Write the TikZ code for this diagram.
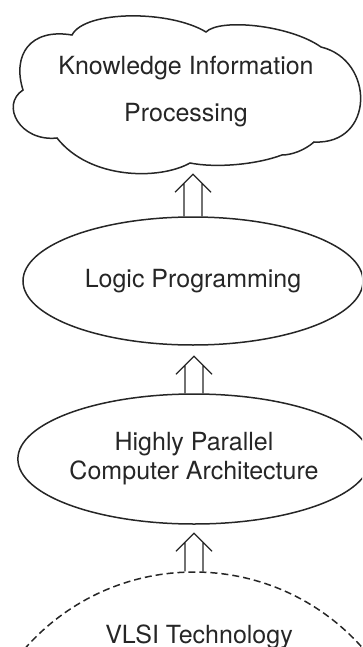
\documentclass[tikz,border=0pt]{standalone}
\usepackage{fontspec}
\setmainfont{TeX Gyre Heros}
\usetikzlibrary{calc,shapes.geometric}
\newcommand\hollowup[2]{% #1 base point, #2 tip point (same x)
  \draw[harrow] ($(#1)+(-9,0)$) -- ($(#2)+(-9,-9)$)
                ($(#1)+(9,0)$) -- ($(#2)+(9,-9)$)
                ($(#2)+(-18,-18)$) -- (#2) -- ($(#2)+(18,-18)$);
}
\begin{document}
\begin{tikzpicture}[x=1pt,y=1pt,
  outline/.style={line width=1.5pt, draw=black!85},
  bubble/.style={ellipse, outline, inner sep=0pt, align=center, text=black!85},
  harrow/.style={line width=1.3pt, draw=black!85, line join=miter},
  lbl/.style={align=center, text=black!85}]
\useasboundingbox (0,0) rectangle (362,-647);
\clip (0,0) rectangle (362,-647);
% cloud
\draw[outline] (72,-35) .. controls (85,-10) and (170,-10) .. (206,-32)
 .. controls (220,-18) and (290,-25) .. (321,-47)
 .. controls (375,-60) and (375,-145) .. (314,-142)
 .. controls (305,-150) and (292,-155) .. (282,-155)
 .. controls (255,-165) and (215,-168) .. (190,-163)
 .. controls (160,-180) and (90,-180) .. (57,-138)
 .. controls (20,-142) and (0,-105) .. (23,-90)
 .. controls (12,-55) and (30,-28) .. cycle;
\node[lbl, font=\fontsize{25}{47}\selectfont] (kip) at (186,-92) {Knowledge Information\\Processing};
% ellipses
\node[bubble, minimum width=340, minimum height=128, font=\fontsize{25}{29}\selectfont] (lp) at (193,-281) {Logic Programming};
\node[bubble, minimum width=334, minimum height=130, font=\fontsize{25}{29}\selectfont] (hp) at (194,-459) {Highly Parallel\\Computer Architecture};
% VLSI circle
\node[circle, draw=black!85, line width=1.5pt, dash pattern=on 7pt off 4pt, minimum size=450, inner sep=0pt] (vlsi) at (194,-797) {};
\node[lbl, font=\fontsize{25}{29}\selectfont, anchor=base] (vlsitext) at (199,-643) {VLSI Technology};
% arrows
\coordinate (tip1) at ($(lp.north)+(0,42)$);
\coordinate (tip2) at ($(hp.north)+(0,37)$);
\coordinate (tip3) at ($(vlsi.north)+(0,38)$);
\hollowup{lp.north}{tip1}
\hollowup{hp.north}{tip2}
\hollowup{vlsi.north}{tip3}
\end{tikzpicture}
\end{document}
